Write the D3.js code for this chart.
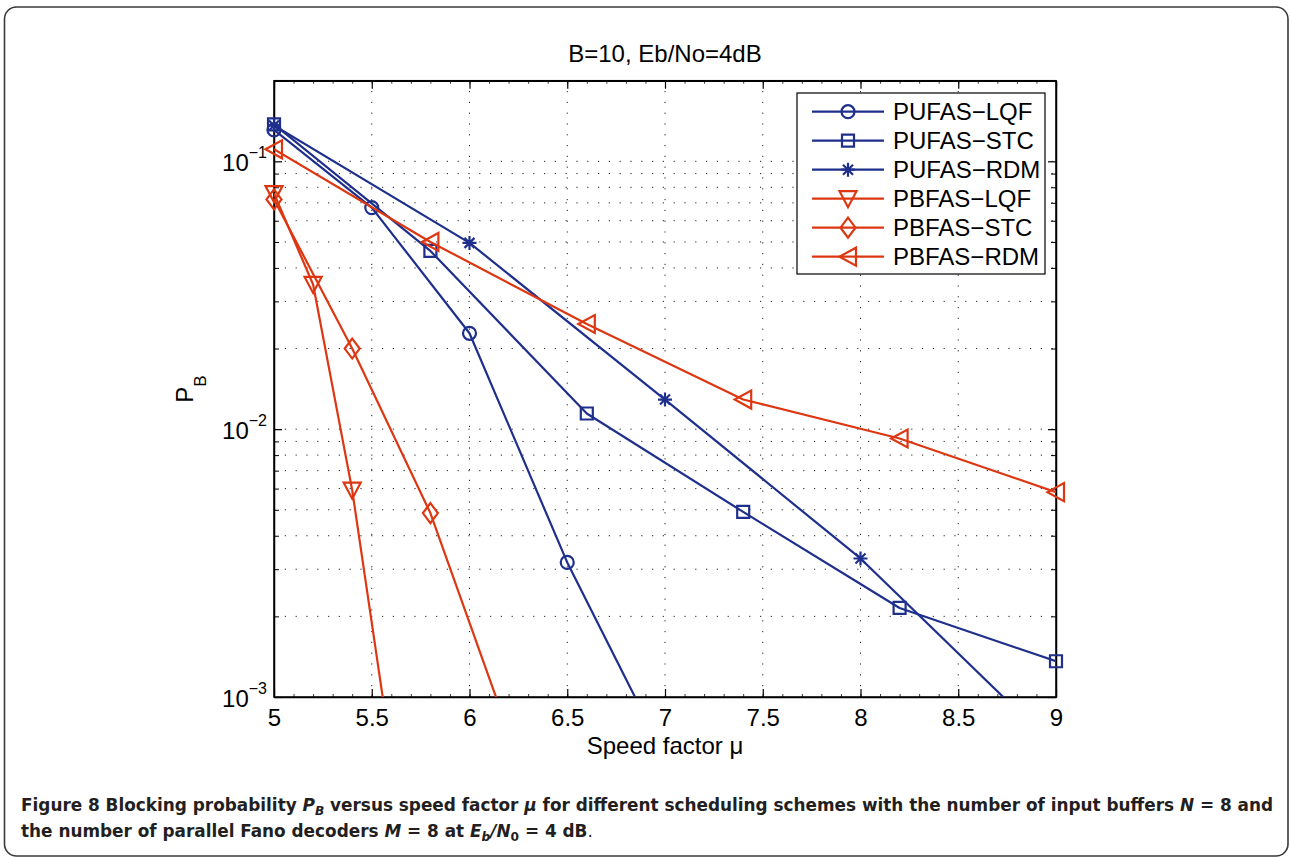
<!DOCTYPE html>
<html>
<head>
<meta charset="utf-8">
<script src="https://cdn.jsdelivr.net/npm/d3@7"></script>
<style>
  html, body { margin: 0; padding: 0; background: #fff; }
  svg { display: block; }
</style>
</head>
<body>
<svg id="chart" width="1290" height="858"></svg>
<script>
// ---------------- data ----------------
const chartTitle = "B=10, Eb/No=4dB";
const xTickValues = [5, 5.5, 6, 6.5, 7, 7.5, 8, 8.5, 9];
const yMajorTicks = [1e-3, 1e-2, 1e-1];
const yMinorTicks = [2e-3,3e-3,4e-3,5e-3,6e-3,7e-3,8e-3,9e-3,2e-2,3e-2,4e-2,5e-2,6e-2,7e-2,8e-2,9e-2,2e-1];
const xMinorTicks = d3.range(5, 9.001, 0.1);
const seriesNames = ["PUFAS−LQF", "PUFAS−STC", "PUFAS−RDM", "PBFAS−LQF", "PBFAS−STC", "PBFAS−RDM"];
const seriesMarkers = ["circle", "square", "star", "tridown", "diamond", "trileft"];
const seriesColors = ["blue", "blue", "blue", "red", "red", "red"];

const muPUFAS_LQF = [5, 5.5, 6, 6.5, 7];
const pbPUFAS_LQF = [0.131, 0.0672, 0.0228, 0.00318, 0.000599];
const muPUFAS_STC = [5, 5.8, 6.6, 7.4, 8.2, 9];
const pbPUFAS_STC = [0.1375, 0.0463, 0.01144, 0.00491, 0.00215, 0.00136];
const muPUFAS_RDM = [5, 6, 7, 8, 9];
const pbPUFAS_RDM = [0.136, 0.0496, 0.0129, 0.00329, 0.000644];
const muPBFAS_LQF = [5, 5.2, 5.4, 5.6];
const pbPBFAS_LQF = [0.0758, 0.0347, 0.00592, 0.000606];
const muPBFAS_STC = [5, 5.4, 5.8, 6.2];
const pbPBFAS_STC = [0.0721, 0.0200, 0.00486, 0.000738];
const muPBFAS_RDM = [5, 5.8, 6.6, 7.4, 8.2, 9];
const pbPBFAS_RDM = [0.1109, 0.0500, 0.0247, 0.0129, 0.00923, 0.00582];

const seriesX = [muPUFAS_LQF, muPUFAS_STC, muPUFAS_RDM, muPBFAS_LQF, muPBFAS_STC, muPBFAS_RDM];
const seriesY = [pbPUFAS_LQF, pbPUFAS_STC, pbPUFAS_RDM, pbPBFAS_LQF, pbPBFAS_STC, pbPBFAS_RDM];

// ---------------- layout ----------------
const colorMap = { blue: "#1f2f8c", red: "#dd3712" };
const L = 274, R = 1056, T = 80.7, B = 697;
const FONT = "'Liberation Sans', Arial, Helvetica, sans-serif";
const FS = 24;

const svg = d3.select("#chart");
svg.append("rect").attr("width", 1290).attr("height", 858).attr("fill", "#fff");

// outer frame
svg.append("rect")
  .attr("x", 4.5).attr("y", 7).attr("width", 1283.5).attr("height", 849)
  .attr("rx", 12).attr("ry", 12)
  .attr("fill", "none").attr("stroke", "#3a3a3a").attr("stroke-width", 1.6);

const x = d3.scaleLinear().domain([5, 9]).range([L, R]);
const y = d3.scaleLog().domain([1e-3, 0.2]).range([B, T]);

// grid (dotted)
const grid = svg.append("g").attr("stroke", "#222").attr("stroke-width", 1)
  .attr("stroke-dasharray", "1.2,9.6").attr("fill", "none");
grid.selectAll("line.gx").data(xTickValues.filter(v => v > 5 && v < 9)).join("line")
  .attr("x1", d => x(d)).attr("x2", d => x(d)).attr("y1", B).attr("y2", T);
grid.selectAll("line.gy").data(yMajorTicks.concat(yMinorTicks).filter(v => v > 1e-3 && v < 0.2)).join("line")
  .attr("class", "gy")
  .attr("x1", L).attr("x2", R).attr("y1", d => y(d)).attr("y2", d => y(d));

// axes
function styleAxis(g) {
  g.selectAll("path.domain").attr("stroke", "#000").attr("stroke-width", 1.5);
  g.selectAll(".tick line").attr("stroke", "#000").attr("stroke-width", 1.2);
  g.selectAll(".tick text").attr("font-family", FONT).attr("font-size", FS).attr("fill", "#000");
}

// minor ticks
svg.append("g").attr("transform", `translate(0,${B})`)
  .call(d3.axisBottom(x).tickValues(xMinorTicks).tickSize(-3).tickFormat(""))
  .call(g => { g.select(".domain").remove(); g.selectAll(".tick line").attr("stroke", "#000").attr("stroke-width", 0.8); });
svg.append("g").attr("transform", `translate(0,${T})`)
  .call(d3.axisTop(x).tickValues(xMinorTicks).tickSize(-3).tickFormat(""))
  .call(g => { g.select(".domain").remove(); g.selectAll(".tick line").attr("stroke", "#000").attr("stroke-width", 0.8); });
svg.append("g").attr("transform", `translate(${L},0)`)
  .call(d3.axisLeft(y).tickValues(yMinorTicks).tickSize(-5).tickFormat(""))
  .call(g => { g.select(".domain").remove(); g.selectAll(".tick line").attr("stroke", "#000").attr("stroke-width", 1); });
svg.append("g").attr("transform", `translate(${R},0)`)
  .call(d3.axisRight(y).tickValues(yMinorTicks).tickSize(-5).tickFormat(""))
  .call(g => { g.select(".domain").remove(); g.selectAll(".tick line").attr("stroke", "#000").attr("stroke-width", 1); });

// major axes
svg.append("g").attr("transform", `translate(0,${B})`)
  .call(d3.axisBottom(x).tickValues(xTickValues).tickSizeInner(-8).tickSizeOuter(0).tickPadding(12)
    .tickFormat(d3.format("")))
  .call(styleAxis);
svg.append("g").attr("transform", `translate(0,${T})`)
  .call(d3.axisTop(x).tickValues(xTickValues).tickSizeInner(-8).tickSizeOuter(0).tickFormat(""))
  .call(styleAxis);
const yAx = svg.append("g").attr("transform", `translate(${L},0)`)
  .call(d3.axisLeft(y).tickValues(yMajorTicks).tickSizeInner(-8).tickSizeOuter(0).tickPadding(7)
    .tickFormat(""))
  .call(styleAxis);
yAx.selectAll(".tick text").each(function(d) {
  const t = d3.select(this).attr("dy", null).attr("dominant-baseline", null).attr("y", 9);
  const e = Math.round(Math.log10(d));
  t.append("tspan").text("10");
  t.append("tspan").attr("dy", -13).attr("font-size", 16).text("−" + Math.abs(e));
});
svg.append("g").attr("transform", `translate(${R},0)`)
  .call(d3.axisRight(y).tickValues(yMajorTicks).tickSizeInner(-8).tickSizeOuter(0).tickFormat(""))
  .call(styleAxis);

// frame lines (full box)
svg.append("rect").attr("x", L).attr("y", T).attr("width", R - L).attr("height", B - T)
  .attr("fill", "none").attr("stroke", "#000").attr("stroke-width", 1.5);

// title & labels
svg.append("text").attr("x", (L + R) / 2).attr("y", 62).attr("text-anchor", "middle")
  .attr("font-family", FONT).attr("font-size", FS).text(chartTitle);
svg.append("text").attr("x", (L + R) / 2).attr("y", 754).attr("text-anchor", "middle")
  .attr("font-family", FONT).attr("font-size", FS).text("Speed factor μ");
const yl = svg.append("text").attr("transform", "translate(193,389) rotate(-90)")
  .attr("text-anchor", "middle").attr("font-family", FONT).attr("font-size", FS);
yl.append("tspan").text("P");
yl.append("tspan").attr("dy", 13).attr("font-size", 17).text("B");

// clip
svg.append("clipPath").attr("id", "plotclip").append("rect")
  .attr("x", L).attr("y", T).attr("width", R - L).attr("height", B - T);

// markers
function markerPath(kind) {
  switch (kind) {
    case "circle": return d3.symbol().type(d3.symbolCircle).size(Math.PI * 6.5 * 6.5)();
    case "square": return "M-6,-6H6V6H-6Z";
    case "star": return "M-7,0H7M0,-7V7M-5,-5L5,5M-5,5L5,-5";
    case "tridown": return "M-8.5,-7.5L8.5,-7.5L0,8.5Z";
    case "diamond": return "M0,-10L7.5,0L0,10L-7.5,0Z";
    case "trileft": return "M-8.5,0L8,-9L8,9Z";
  }
}

const line = d3.line().x(d => x(d[0])).y(d => y(d[1]));
seriesNames.forEach((name, i) => {
  const pts = seriesX[i].map((m, j) => [m, seriesY[i][j]]);
  const col = colorMap[seriesColors[i]];
  const g = svg.append("g");
  g.append("path").datum(pts).attr("d", line).attr("clip-path", "url(#plotclip)")
    .attr("fill", "none").attr("stroke", col).attr("stroke-width", 2.2).attr("stroke-linejoin", "round");
  g.selectAll("path.mk").data(pts.filter(p => p[1] >= 1e-3)).join("path")
    .attr("class", "mk")
    .attr("transform", p => `translate(${x(p[0])},${y(p[1])})`)
    .attr("d", markerPath(seriesMarkers[i]))
    .attr("fill", "none").attr("stroke", col).attr("stroke-width", 2.2);
});

// legend
const lg = svg.append("g");
lg.append("rect").attr("x", 797).attr("y", 93).attr("width", 248).attr("height", 181)
  .attr("fill", "#fff").attr("stroke", "#000").attr("stroke-width", 1.2);
seriesNames.forEach((name, i) => {
  const cy = 111.7 + i * 29;
  const col = colorMap[seriesColors[i]];
  lg.append("line").attr("x1", 812).attr("x2", 884).attr("y1", cy).attr("y2", cy)
    .attr("stroke", col).attr("stroke-width", 2.2);
  lg.append("path").attr("transform", `translate(848,${cy})`).attr("d", markerPath(seriesMarkers[i]))
    .attr("fill", "none").attr("stroke", col).attr("stroke-width", 2.2);
  lg.append("text").attr("x", 893).attr("y", cy + 8.5).attr("font-family", FONT).attr("font-size", FS)
    .text(name);
});

// caption
const CAP_FONT = "'Liberation Sans Narrow', 'DejaVu Sans Condensed', 'Roboto Condensed', 'Open Sans', sans-serif";
const cap = svg.append("g").attr("font-family", CAP_FONT).attr("font-size", 18)
  .attr("fill", "#231f20").attr("font-weight", "bold").style("font-stretch", "condensed");
const c1 = cap.append("text").attr("x", 21).attr("y", 811);
c1.append("tspan").text("Figure 8 Blocking probability ");
c1.append("tspan").attr("font-style", "italic").text("P");
c1.append("tspan").attr("font-style", "italic").attr("font-size", 13).attr("dy", 4).text("B");
c1.append("tspan").attr("dy", -4).text(" versus speed factor ");
c1.append("tspan").attr("font-style", "italic").text("μ");
c1.append("tspan").text(" for different scheduling schemes with the number of input buffers ");
c1.append("tspan").attr("font-style", "italic").text("N");
c1.append("tspan").text(" = 8 and");
const c2 = cap.append("text").attr("x", 21).attr("y", 837);
c2.append("tspan").text("the number of parallel Fano decoders ");
c2.append("tspan").attr("font-style", "italic").text("M");
c2.append("tspan").text(" = 8 at ");
c2.append("tspan").attr("font-style", "italic").text("E");
c2.append("tspan").attr("font-style", "italic").attr("font-size", 13).attr("dy", 4).text("b");
c2.append("tspan").attr("dy", -4).attr("font-style", "italic").text("/N");
c2.append("tspan").attr("font-size", 13).attr("dy", 4).text("0");
c2.append("tspan").attr("dy", -4).text(" = 4 dB");
c2.append("tspan").attr("font-weight", "normal").text(".");
const w1 = c1.node().getComputedTextLength();
const w2 = c2.node().getComputedTextLength();
const ratio = 1252 / w1;
c1.attr("textLength", 1252).attr("lengthAdjust", "spacingAndGlyphs");
c2.attr("textLength", w2 * ratio).attr("lengthAdjust", "spacingAndGlyphs");
</script>
</body>
</html>
